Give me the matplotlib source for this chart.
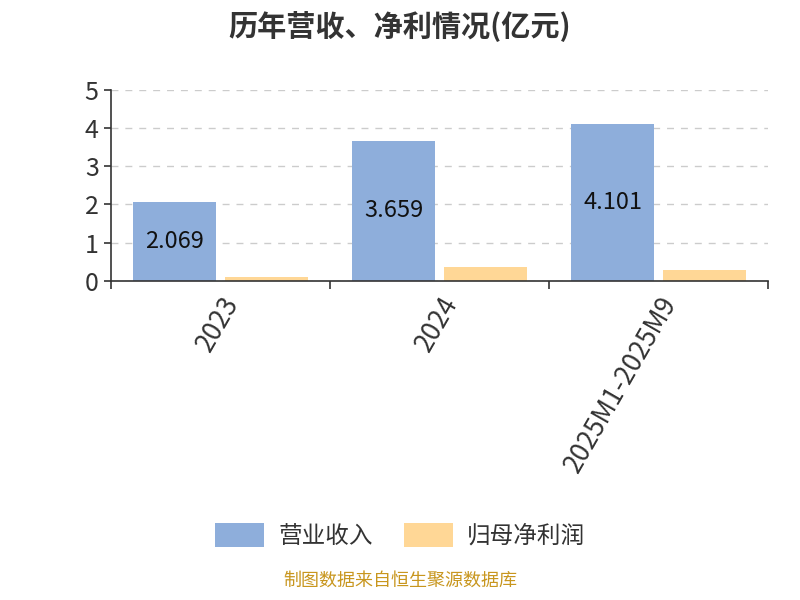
import matplotlib
matplotlib.use("Agg")
import matplotlib.pyplot as plt
from matplotlib.legend_handler import HandlerPatch
from matplotlib.patches import FancyBboxPatch
import numpy as np

plt.rcParams['font.family'] = ['Noto Sans CJK SC', 'DejaVu Sans']

categories = ['2023', '2024', '2025M1-2025M9']
revenue = [2.069, 3.659, 4.101]
net_profit = [0.11, 0.35, 0.27]
series_names = ['营业收入', '归母净利润']


class RoundHandler(HandlerPatch):
    def create_artists(self, legend, orig_handle, xdescent, ydescent, width, height, fontsize, trans):
        p = FancyBboxPatch((-xdescent, -ydescent), width, height,
                           boxstyle='round,pad=0,rounding_size=4',
                           facecolor=orig_handle.get_facecolor(), edgecolor='none', transform=trans)
        return [p]


fig = plt.figure(figsize=(8, 6), dpi=100)
ax = fig.add_axes([0.139, 0.532, 0.821, 0.318])

x = np.arange(len(categories))
w = 0.38
b1 = ax.bar(x - 0.21, revenue, w, color='#8eaedb', label=series_names[0])
b2 = ax.bar(x + 0.21, net_profit, w, color='#ffd796', label=series_names[1])

for xi, v in zip(x, revenue):
    ax.text(xi - 0.21, v / 2, f'{v:.3f}', ha='center', va='center', fontsize=17, color='#111111')

ax.set_xlim(-0.5, len(categories) - 0.5)
ax.set_ylim(0, 5)
ax.set_yticks(range(6))
ax.set_xticks(np.arange(-0.5, len(categories), 1.0))
ax.set_xticklabels([])
ax.set_xticks(x, minor=True)
ax.set_xticklabels(categories, minor=True, rotation=60, ha='right', rotation_mode='anchor',
                   fontsize=19, color='#333333')
ax.tick_params(axis='x', which='minor', length=0, pad=8)
ax.tick_params(axis='x', which='major', length=6, color='#333333', width=1.2)
ax.tick_params(axis='y', length=5, color='#333333', width=1.2, labelsize=18, labelcolor='#333333', pad=4)
ax.yaxis.grid(True, linestyle=(0, (5, 5)), color='#cccccc', linewidth=1)
ax.set_axisbelow(True)
for s in ['top', 'right']:
    ax.spines[s].set_visible(False)
for s in ['left', 'bottom']:
    ax.spines[s].set_color('#333333')
    ax.spines[s].set_linewidth(1.2)

fig.text(0.5, 0.958, '历年营收、净利情况(亿元)', ha='center', va='center', fontsize=21,
         fontweight='bold', color='#333333')

leg = fig.legend(handles=[b1, b2], loc='center', bbox_to_anchor=(0.5, 0.108), ncol=2, frameon=False,
                 fontsize=17, handlelength=2.1, handleheight=1.2, handletextpad=0.6, columnspacing=1.3,
                 handler_map={b1[0].__class__: RoundHandler()})
for t in leg.get_texts():
    t.set_color('#333333')

fig.text(0.5, 0.018, '制图数据来自恒生聚源数据库', ha='center', va='bottom', fontsize=13, color='#c8961e')

fig.savefig('out.png', dpi=100)
